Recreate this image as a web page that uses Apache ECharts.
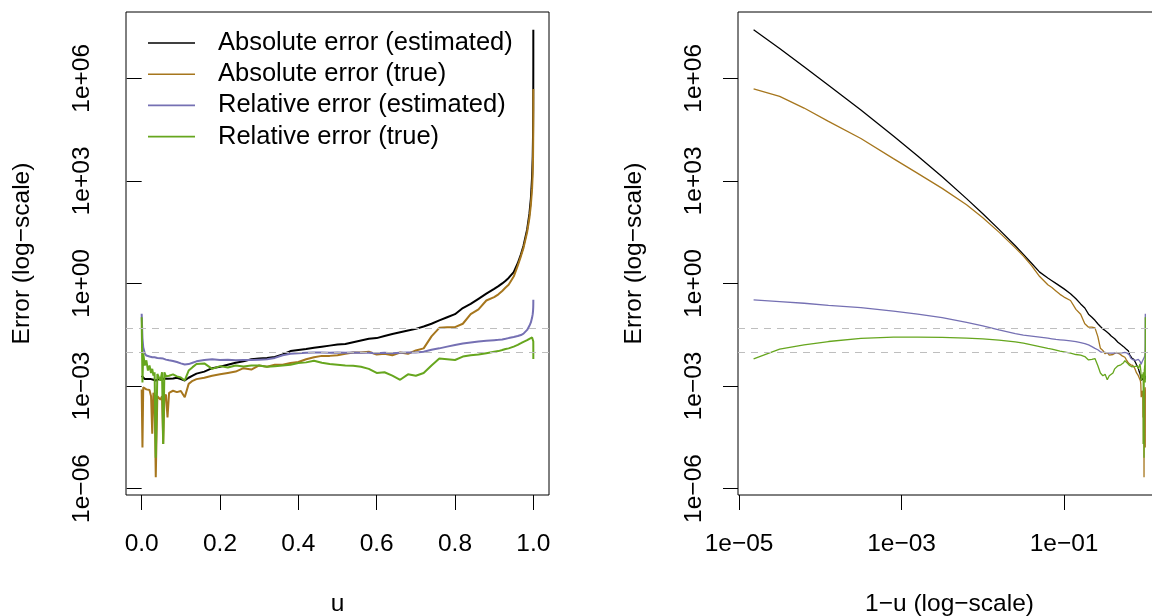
<!DOCTYPE html>
<html><head><meta charset="utf-8">
<script src="https://cdn.jsdelivr.net/npm/echarts@6/dist/echarts.min.js"></script>
<style>html,body{margin:0;padding:0;background:#fff}#c{width:1152px;height:616px}</style>
</head><body><div id="c"></div>
<script>
// ---- data (errors stored as log10 values) ----
const uHead = [0, 0.002, 0.004, 0.008, 0.012, 0.016, 0.02, 0.024, 0.027, 0.03, 0.033, 0.036, 0.04, 0.044, 0.048, 0.052, 0.055, 0.058, 0.062, 0.066, 0.07,
  0.08, 0.09, 0.1, 0.11, 0.12, 0.13, 0.14,
  0.16, 0.18, 0.2, 0.22, 0.24, 0.26, 0.28, 0.30, 0.32, 0.34, 0.36, 0.38, 0.40, 0.42, 0.44, 0.46, 0.48, 0.50,
  0.52, 0.54, 0.56, 0.58, 0.60, 0.62, 0.64, 0.66, 0.68, 0.70, 0.72, 0.74, 0.76, 0.78, 0.80, 0.82, 0.84, 0.86, 0.88, 0.90];
// tail close to u = 1, given as 1-u
const oneMinusUTail = [0.0891, 0.0794, 0.0708, 0.0631, 0.0501, 0.0398, 0.0316, 0.0251, 0.0158, 0.01, 0.00631, 0.00316, 0.00158, 0.000794, 0.000316, 0.000126, 0.0000631, 0.0000316, 0.0000151];

const absEstHeadLog = [-2.70, -2.72, -2.75, -2.80, -2.82, -2.80, -2.83, -2.80, -2.84, -2.82, -2.80, -2.84, -2.82, -2.80, -2.78, -2.82, -2.80, -2.78, -2.80, -2.79, -2.82,
  -2.78, -2.76, -2.80, -2.84, -2.76, -2.70, -2.64,
  -2.58, -2.48, -2.44, -2.38, -2.32, -2.28, -2.22, -2.20, -2.18, -2.15, -2.08, -1.98, -1.95, -1.92, -1.88, -1.85, -1.82, -1.79,
  -1.77, -1.72, -1.67, -1.62, -1.60, -1.54, -1.48, -1.43, -1.38, -1.33, -1.26, -1.18, -1.08, -0.99, -0.90, -0.72, -0.60, -0.45, -0.30, -0.16];
const absEstTailLog = [-0.08, 0.00, 0.08, 0.16, 0.33, 0.59, 0.85, 1.10, 1.58, 2.04, 2.48, 3.12, 3.73, 4.31, 5.07, 5.80, 6.34, 6.87, 7.42];

const absTrueHeadLog = [-3.10, -4.80, -3.04, -3.06, -3.10, -3.05, -3.12, -3.30, -4.40, -3.20, -3.30, -5.67, -3.30, -3.35, -3.40, -3.30, -4.70, -3.35, -3.25, -3.92, -3.20,
  -3.14, -3.18, -3.15, -3.33, -2.94, -2.85, -2.80,
  -2.76, -2.70, -2.66, -2.62, -2.58, -2.48, -2.52, -2.40, -2.44, -2.38, -2.38, -2.33, -2.30, -2.22, -2.16, -2.12, -2.12, -2.10,
  -2.06, -2.02, -2.02, -2.00, -2.08, -2.06, -2.10, -2.02, -2.06, -1.96, -1.90, -1.55, -1.30, -1.28, -1.28, -1.18, -0.90, -0.76, -0.50, -0.40];
const absTrueTailLog = [-0.32, -0.22, -0.12, -0.04, 0.20, 0.52, 0.80, 1.04, 1.50, 1.92, 2.30, 2.78, 3.22, 3.65, 4.24, 4.74, 5.13, 5.47, 5.69];

const relEstHeadLog = [-0.89, -1.60, -1.87, -2.05, -2.11, -2.12, -2.14, -2.15, -2.16, -2.17, -2.16, -2.18, -2.18, -2.20, -2.19, -2.21, -2.20, -2.22, -2.23, -2.24, -2.25,
  -2.27, -2.30, -2.34, -2.37, -2.36, -2.32, -2.28,
  -2.24, -2.22, -2.24, -2.23, -2.25, -2.24, -2.24, -2.23, -2.22, -2.18, -2.10, -2.06, -2.04, -2.03, -2.02, -2.02, -2.03, -2.02,
  -2.03, -2.02, -2.03, -2.03, -2.04, -2.03, -2.04, -2.03, -2.02, -2.02, -2.00, -1.94, -1.90, -1.85, -1.80, -1.76, -1.73, -1.70, -1.68, -1.66];
const relEstTailLog = [-1.65, -1.64, -1.62, -1.60, -1.57, -1.54, -1.51, -1.47, -1.36, -1.24, -1.14, -1.00, -0.90, -0.81, -0.71, -0.64, -0.58, -0.53, -0.48];

const relTrueHeadLog = [-0.99, -2.90, -2.05, -2.40, -2.25, -2.55, -2.40, -2.62, -2.50, -2.70, -2.60, -5.10, -2.65, -2.75, -2.84, -2.60, -4.70, -2.60, -2.72, -2.68, -2.70,
  -2.66, -2.72, -2.75, -2.84, -2.55, -2.45, -2.36,
  -2.34, -2.50, -2.42, -2.46, -2.40, -2.43, -2.40, -2.40, -2.44, -2.42, -2.40, -2.38, -2.33, -2.31, -2.26, -2.32, -2.36, -2.38,
  -2.40, -2.41, -2.44, -2.50, -2.62, -2.60, -2.70, -2.82, -2.66, -2.70, -2.62, -2.40, -2.20, -2.22, -2.24, -2.14, -2.10, -2.08, -2.04, -2.00];
const relTrueTailLog = [-1.98, -1.95, -1.92, -1.90, -1.85, -1.80, -1.75, -1.71, -1.66, -1.62, -1.60, -1.58, -1.57, -1.57, -1.61, -1.70, -1.80, -1.92, -2.21];

const seriesNames = ['Absolute error (estimated)', 'Absolute error (true)', 'Relative error (estimated)', 'Relative error (true)'];
const seriesColors = ['#000000', '#A6761D', '#7570B3', '#66A61E'];
const refLines = [0.05, 0.01];

const leftXTicks = [0, 0.2, 0.4, 0.6, 0.8, 1.0];
const leftXTickLabels = ['0.0', '0.2', '0.4', '0.6', '0.8', '1.0'];
const rightXTicks = [1e-5, 1e-3, 1e-1];
const rightXTickLabels = ['1e\u221205', '1e\u221203', '1e\u221201'];
const yTicks = [1e-6, 1e-3, 1, 1e3, 1e6];
const yTickLabels = ['1e\u221206', '1e\u221203', '1e+00', '1e+03', '1e+06'];

// ---- build ----
const heads = [absEstHeadLog, absTrueHeadLog, relEstHeadLog, relTrueHeadLog];
const tails = [absEstTailLog, absTrueTailLog, relEstTailLog, relTrueTailLog];
function points(i, panel) {
  const pts = [];
  uHead.forEach((u, k) => pts.push([panel === 0 ? u : 1 - u, Math.pow(10, heads[i][k])]));
  oneMinusUTail.forEach((t, k) => pts.push([panel === 0 ? 1 - t : t, Math.pow(10, tails[i][k])]));
  return pts;
}
function linLabel(ticks, labels) {
  return v => { const i = ticks.findIndex(t => Math.abs(t - v) < 1e-9); return i < 0 ? '' : labels[i]; };
}
function logLabel(ticks, labels) {
  return v => { const i = ticks.findIndex(t => Math.abs(Math.log10(t) - Math.log10(v)) < 1e-6); return i < 0 ? '' : labels[i]; };
}
const FONT = 'Liberation Sans, Arial, Helvetica, sans-serif';
const yMin = Math.pow(10, -6.19), yMax = Math.pow(10, 7.94);

const chart = echarts.init(document.getElementById('c'), null, { renderer: 'canvas' });
const grids = [
  { left: 126, top: 12, width: 423, height: 483, show: true, borderColor: '#000', borderWidth: 1, backgroundColor: 'transparent', containLabel: false, outerBoundsMode: 'none' },
  { left: 738, top: 12, width: 423, height: 483, show: true, borderColor: '#000', borderWidth: 1, backgroundColor: 'transparent', containLabel: false, outerBoundsMode: 'none' }
];
const tickStyle = { show: true, length: 15, lineStyle: { color: '#000', width: 1 } };
const labelStyle = { fontSize: 24.5, color: '#000', fontFamily: FONT };
const nameStyle = { fontSize: 24.5, color: '#000', fontFamily: FONT };

const xAxes = [
  { gridIndex: 0, type: 'value', min: -0.04, max: 1.04, splitLine: { show: false }, axisLine: { show: false },
    axisTick: Object.assign({ customValues: leftXTicks }, tickStyle),
    axisLabel: Object.assign({ customValues: leftXTicks, margin: 37, formatter: linLabel(leftXTicks, leftXTickLabels) }, labelStyle),
    name: 'u', nameLocation: 'middle', nameGap: 97, nameTextStyle: nameStyle },
  { gridIndex: 1, type: 'log', logBase: 10, min: Math.pow(10, -5.013), max: Math.pow(10, 0.193), splitLine: { show: false }, axisLine: { show: false },
    axisTick: Object.assign({ customValues: rightXTicks }, tickStyle),
    axisLabel: Object.assign({ customValues: rightXTicks, margin: 37, formatter: logLabel(rightXTicks, rightXTickLabels) }, labelStyle),
    name: '1\u2212u (log\u2212scale)', nameLocation: 'middle', nameGap: 97, nameTextStyle: nameStyle }
];
const yAxes = [0, 1].map(g => ({
  gridIndex: g, type: 'log', logBase: 10, min: yMin, max: yMax, splitLine: { show: false }, axisLine: { show: false },
  axisTick: Object.assign({ customValues: yTicks }, tickStyle),
  axisLabel: Object.assign({ customValues: yTicks, rotate: 90, margin: 31, formatter: logLabel(yTicks, yTickLabels) }, labelStyle),
  name: 'Error (log\u2212scale)', nameLocation: 'middle', nameRotate: 90, nameGap: 91, nameTextStyle: nameStyle
}));

const series = [];
[0, 1].forEach(panel => {
  seriesNames.forEach((name, i) => {
    const s = {
      name, type: 'line', xAxisIndex: panel, yAxisIndex: panel, data: points(i, panel),
      showSymbol: false, symbol: 'none', smooth: false, clip: true,
      lineStyle: { color: seriesColors[i], width: panel === 0 ? 2 : 1.3 },
      itemStyle: { color: seriesColors[i] }, color: seriesColors[i],
      emphasis: { disabled: true }, animation: false
    };
    if (i === 3) {
      s.markLine = { silent: true, symbol: 'none', animation: false, label: { show: false },
        lineStyle: { color: '#BEBEBE', type: [7, 6], width: 1.2 },
        emphasis: { disabled: true },
        data: refLines.map(v => ({ yAxis: v })) };
    }
    series.push(s);
  });
});

chart.setOption({
  animation: false,
  backgroundColor: '#ffffff',
  textStyle: { fontFamily: FONT },
  grid: grids,
  xAxis: xAxes,
  yAxis: yAxes,
  legend: {
    data: seriesNames, orient: 'vertical', left: 148, top: 30, padding: 0, icon: 'rect',
    itemWidth: 47, itemHeight: 1.6, itemGap: 5.2, selectedMode: false,
    textStyle: { fontSize: 25.5, color: '#000', fontFamily: FONT, lineHeight: 25.5, padding: [0, 0, 0, 18] }
  },
  series
});
</script></body></html>
